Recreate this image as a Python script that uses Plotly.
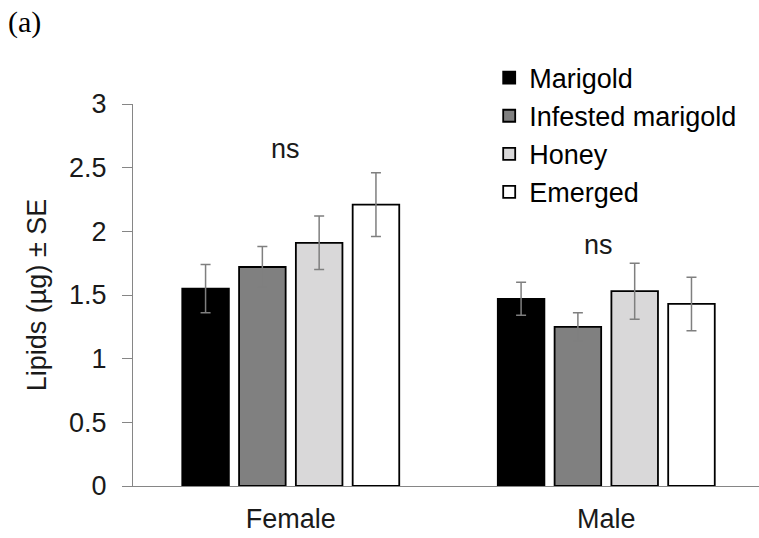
import plotly.graph_objects as go

categories = ["Female", "Male"]
series_names = ["Marigold", "Infested marigold", "Honey", "Emerged"]
means = {
    "Marigold": [1.55, 1.47],
    "Infested marigold": [1.72, 1.25],
    "Honey": [1.91, 1.53],
    "Emerged": [2.21, 1.43],
}
se = {
    "Marigold": [0.19, 0.13],
    "Infested marigold": [0.16, 0.11],
    "Honey": [0.21, 0.22],
    "Emerged": [0.25, 0.21],
}
colors = {
    "Marigold": "#000000",
    "Infested marigold": "#808080",
    "Honey": "#d9d8d9",
    "Emerged": "#ffffff",
}
y_ticks = [0, 0.5, 1, 1.5, 2, 2.5, 3]
y_tick_labels = ["0", "0.5", "1", "1.5", "2", "2.5", "3"]
sig_labels = ["ns", "ns"]
sig_y = [2.645, 1.895]
sig_dx = [-0.016, -0.025]

FONT = "Liberation Sans, Arial, sans-serif"

fig = go.Figure()
for name in series_names:
    fig.add_trace(go.Bar(
        x=categories,
        y=means[name],
        name=name,
        marker=dict(color=colors[name], line=dict(color="#000000", width=1.8)),
        error_y=dict(type="data", array=se[name], visible=True,
                     color="#7f7f7f", thickness=1.5, width=5),
    ))

for i, cat in enumerate(categories):
    fig.add_annotation(x=i + sig_dx[i], y=sig_y[i], xref="x", yref="y",
                       text=sig_labels[i], showarrow=False,
                       font=dict(family=FONT, size=27, color="#1a1a1a"))

fig.add_annotation(x=-0.203, y=1.215, xref="paper", yref="paper",
                   text="(a)", showarrow=False, xanchor="left", yanchor="middle",
                   font=dict(family="Liberation Serif, Times New Roman, serif",
                             size=30, color="#000000"))

fig.update_layout(
    width=759, height=538,
    margin=dict(l=133, r=0, t=104, b=52),
    paper_bgcolor="white", plot_bgcolor="white",
    barmode="group", bargap=0.28, bargroupgap=0.18,
    font=dict(family=FONT, size=27, color="#1a1a1a"),
    showlegend=True,
    legend=dict(x=0.569, y=1.132, xanchor="left", yanchor="top",
                bgcolor="rgba(0,0,0,0)", font=dict(family=FONT, size=27, color="#000000"),
                tracegroupgap=0),
    xaxis=dict(range=[-0.5, 1.484], showline=True, linecolor="#868686", linewidth=1.2,
               ticks="", showgrid=False, zeroline=False, ticklabelstandoff=8,
               tickfont=dict(family=FONT, size=27, color="#1a1a1a")),
    yaxis=dict(range=[0, 3], tickvals=y_ticks, ticktext=y_tick_labels,
               showline=True, linecolor="#868686", linewidth=1.2,
               ticks="outside", ticklen=10, tickcolor="#868686", tickwidth=1.2,
               showgrid=False, zeroline=False, ticklabelstandoff=10,
               tickfont=dict(family=FONT, size=27, color="#1a1a1a"),
               title=dict(text="Lipids (µg) ± SE", standoff=14,
                          font=dict(family=FONT, size=27, color="#1a1a1a"))),
)

fig.write_html("out.html")
